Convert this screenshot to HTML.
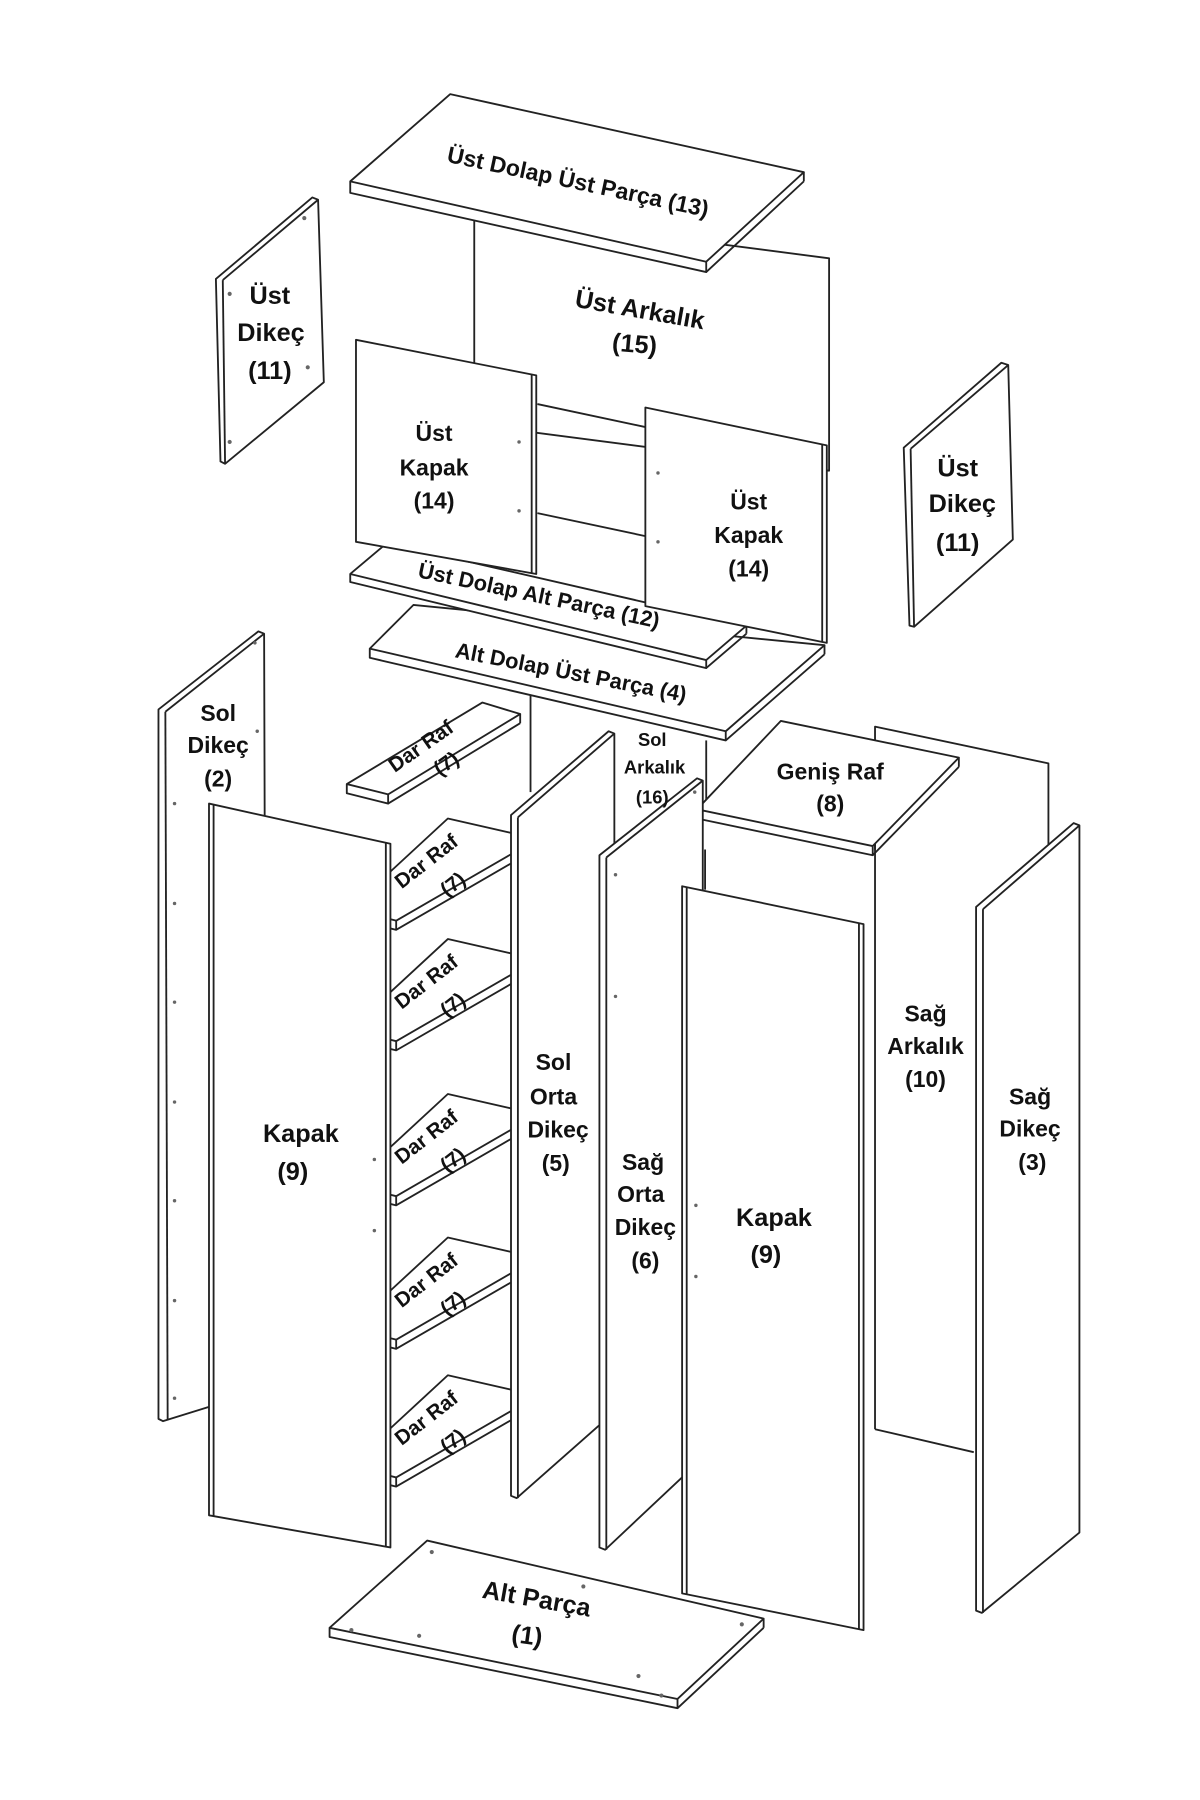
<!DOCTYPE html>
<html><head><meta charset="utf-8"><style>
html,body{margin:0;padding:0;background:#fff;}
svg{display:block;}
text{font-family:"Liberation Sans",sans-serif;font-weight:bold;fill:#111;}
</style></head><body>
<svg width="1200" height="1800" viewBox="0 0 1045 1568" preserveAspectRatio="none" xmlns="http://www.w3.org/2000/svg">
<g fill="#fff" stroke="#222" stroke-width="1.6" stroke-linejoin="round">
<!-- Üst Arkalık -->
<polygon points="413,185 722,225 722,410 413,370"/>
<line x1="468" y1="352" x2="562" y2="372"/>
<line x1="468" y1="447" x2="562" y2="467"/>
<!-- Üst Dolap Üst Parça 13 -->
<polygon points="305,158 392,82 700,150 615,228 615,237 305,168"/>
<line x1="305" y1="158" x2="615" y2="228"/>
<line x1="700" y1="150" x2="700" y2="158"/><line x1="700" y1="158" x2="615" y2="237"/>
<!-- Üst Dikeç left -->
<polygon points="188,243 272,172 277,174 282,333 196,404 192,402"/>
<line x1="194" y1="244" x2="277" y2="174"/><line x1="194" y1="244" x2="196" y2="404"/>
<!-- Üst Dikeç right -->
<polygon points="787,390 872,316 878,318 882,470 796,546 792,545"/>
<line x1="793" y1="391" x2="878" y2="318"/><line x1="793" y1="391" x2="796" y2="546"/>
<!-- Alt Dolap Üst Parça 4 -->
<polygon points="322,565 360,527 718,562 632,637 632,645 322,573"/>
<line x1="322" y1="565" x2="632" y2="637"/><line x1="718" y1="562" x2="718" y2="570"/><line x1="718" y1="570" x2="632" y2="645"/>
<!-- Üst Dolap Alt Parça 12 -->
<polygon points="305,500 337,473 650,545 615,575 615,582 305,507"/>
<line x1="305" y1="500" x2="615" y2="575"/><line x1="650" y1="545" x2="650" y2="552"/><line x1="650" y1="552" x2="615" y2="582"/>
<!-- Üst Kapak left/right -->
<polygon points="310,296 467,327 467,500 310,472"/>
<line x1="463" y1="326" x2="463" y2="499"/>
<polygon points="562,355 720,388 720,560 562,528"/>
<line x1="716" y1="387" x2="716" y2="559"/>
<!-- Sol Arkalık -->
<line x1="462" y1="605" x2="462" y2="690"/>
<line x1="615" y1="645" x2="615" y2="700"/>
<!-- Sağ Arkalık body -->
<polygon points="614,700 762,735 762,1245 848,1265 848,800 614,770" stroke="none"/>
<polyline fill="none" points="762,740 762,633 913,665 913,745"/>
<line x1="762" y1="735" x2="762" y2="1245"/><line x1="762" y1="1245" x2="848" y2="1265"/>
<line x1="614" y1="740" x2="614" y2="775"/>
<!-- Geniş Raf -->
<polygon points="607,705 680,628 835,660 760,737 760,745 607,713"/>
<line x1="607" y1="705" x2="760" y2="737"/><line x1="835" y1="660" x2="835" y2="668"/><line x1="835" y1="668" x2="760" y2="745"/>
<!-- Sol Dikeç -->
<polygon points="138,618 225,550 230,552 232,1210 142,1238 138,1236"/>
<line x1="144" y1="620" x2="230" y2="552"/><line x1="144" y1="620" x2="146" y2="1237"/>
<!-- Dar Raf top -->
<polygon points="302,683 420,612 453,622 338,692 338,700 302,691"/>
<line x1="302" y1="683" x2="338" y2="692"/><line x1="453" y1="622" x2="453" y2="630"/><line x1="453" y1="630" x2="338" y2="700"/>
<!-- Dar Raf others -->
<g id="sh">
<polygon points="337,762 390,713 447,726 447,751 345,810 337,808"/>
<line x1="337" y1="800" x2="345" y2="802"/><line x1="345" y1="802" x2="447" y2="743"/><line x1="345" y1="802" x2="345" y2="810"/>
</g>
<use href="#sh" y="105"/>
<use href="#sh" y="240"/>
<use href="#sh" y="365"/>
<use href="#sh" y="485"/>
<!-- Kapak left -->
<polygon points="182,700 340,735 340,1348 182,1320"/>
<line x1="186" y1="701" x2="186" y2="1321"/><line x1="336" y1="734" x2="336" y2="1347"/>
<!-- Sol Orta Dikeç -->
<polygon points="445,710 530,637 535,639 535,1230 450,1305 445,1303"/>
<line x1="451" y1="712" x2="535" y2="639"/><line x1="451" y1="712" x2="451" y2="1305"/>
<!-- Sağ Orta Dikeç -->
<polygon points="522,745 607,678 612,680 612,1270 527,1350 522,1348"/>
<line x1="528" y1="747" x2="612" y2="680"/><line x1="528" y1="747" x2="528" y2="1350"/>
<!-- Kapak right -->
<polygon points="594,772 752,805 752,1420 594,1388"/>
<line x1="598" y1="773" x2="598" y2="1389"/><line x1="748" y1="804" x2="748" y2="1419"/>
<!-- Sağ Dikeç -->
<polygon points="850,790 935,717 940,719 940,1335 855,1405 850,1403"/>
<line x1="856" y1="792" x2="940" y2="719"/><line x1="856" y1="792" x2="856" y2="1405"/>
<!-- Alt Parça -->
<polygon points="287,1418 372,1342 665,1410 590,1480 590,1488 287,1426"/>
<line x1="287" y1="1418" x2="590" y2="1480"/><line x1="665" y1="1410" x2="665" y2="1418"/><line x1="665" y1="1418" x2="590" y2="1488"/>
</g>
<g fill="#666">
<circle cx="200" cy="256" r="1.8"/><circle cx="265" cy="190" r="1.8"/><circle cx="268" cy="320" r="1.8"/><circle cx="200" cy="385" r="1.8"/>
<circle cx="452" cy="385" r="1.5"/><circle cx="452" cy="445" r="1.5"/><circle cx="573" cy="412" r="1.5"/><circle cx="573" cy="472" r="1.5"/>
<circle cx="152" cy="700" r="1.5"/><circle cx="152" cy="787" r="1.5"/><circle cx="152" cy="873" r="1.5"/><circle cx="152" cy="960" r="1.5"/><circle cx="152" cy="1046" r="1.5"/><circle cx="152" cy="1133" r="1.5"/><circle cx="152" cy="1218" r="1.5"/><circle cx="222" cy="560" r="1.5"/><circle cx="224" cy="637" r="1.5"/>
<circle cx="326" cy="1010" r="1.5"/><circle cx="326" cy="1072" r="1.5"/><circle cx="606" cy="1050" r="1.5"/><circle cx="606" cy="1112" r="1.5"/>
<circle cx="536" cy="762" r="1.5"/><circle cx="536" cy="868" r="1.5"/><circle cx="605" cy="690" r="1.5"/>
<circle cx="306" cy="1420" r="1.8"/><circle cx="376" cy="1352" r="1.8"/><circle cx="365" cy="1425" r="1.8"/><circle cx="508" cy="1382" r="1.8"/><circle cx="556" cy="1460" r="1.8"/><circle cx="576" cy="1477" r="1.8"/><circle cx="646" cy="1415" r="1.8"/>
</g>
<g font-size="20" text-anchor="middle">
<text transform="translate(502,165) rotate(12)">Üst Dolap Üst Parça (13)</text>
<text transform="translate(556,277) rotate(10)" font-size="22">Üst Arkalık</text>
<text transform="translate(552,307) rotate(5)" font-size="22">(15)</text>
<text x="235" y="265" font-size="22">Üst</text><text x="236" y="297" font-size="22">Dikeç</text><text x="235" y="330" font-size="22">(11)</text>
<text x="834" y="415" font-size="22">Üst</text><text x="838" y="446" font-size="22">Dikeç</text><text x="834" y="480" font-size="22">(11)</text>
<text x="378" y="384">Üst</text><text x="378" y="414">Kapak</text><text x="378" y="443">(14)</text>
<text x="652" y="444">Üst</text><text x="652" y="473">Kapak</text><text x="652" y="502">(14)</text>
<text transform="translate(468,525) rotate(12)" font-size="19">Üst Dolap Alt Parça (12)</text>
<text transform="translate(496,592) rotate(11)" font-size="19">Alt Dolap Üst Parça (4)</text>
<text x="568" y="650" font-size="16">Sol</text><text x="570" y="674" font-size="16">Arkalık</text><text x="568" y="700" font-size="16">(16)</text>
<text x="723" y="679">Geniş Raf</text><text x="723" y="707">(8)</text>
<text x="190" y="628">Sol</text><text x="190" y="656">Dikeç</text><text x="190" y="685">(2)</text>
<g font-size="18">
<text transform="translate(370,655) rotate(-35)">Dar Raf</text><text transform="translate(392,670) rotate(-35)">(7)</text>
<text transform="translate(375,755) rotate(-38)">Dar Raf</text><text transform="translate(398,775) rotate(-38)">(7)</text>
<text transform="translate(375,860) rotate(-38)">Dar Raf</text><text transform="translate(398,880) rotate(-38)">(7)</text>
<text transform="translate(375,995) rotate(-38)">Dar Raf</text><text transform="translate(398,1015) rotate(-38)">(7)</text>
<text transform="translate(375,1120) rotate(-38)">Dar Raf</text><text transform="translate(398,1140) rotate(-38)">(7)</text>
<text transform="translate(375,1240) rotate(-38)">Dar Raf</text><text transform="translate(398,1260) rotate(-38)">(7)</text>
</g>
<text x="262" y="995" font-size="22">Kapak</text><text x="255" y="1028" font-size="22">(9)</text>
<text x="482" y="932">Sol</text><text x="482" y="962">Orta</text><text x="486" y="991">Dikeç</text><text x="484" y="1020">(5)</text>
<text x="560" y="1019">Sağ</text><text x="558" y="1047">Orta</text><text x="562" y="1076">Dikeç</text><text x="562" y="1105">(6)</text>
<text x="674" y="1068" font-size="22">Kapak</text><text x="667" y="1100" font-size="22">(9)</text>
<text x="806" y="890">Sağ</text><text x="806" y="918">Arkalık</text><text x="806" y="947">(10)</text>
<text x="897" y="962">Sağ</text><text x="897" y="990">Dikeç</text><text x="899" y="1019">(3)</text>
<text transform="translate(466,1400) rotate(10)" font-size="22">Alt Parça</text>
<text transform="translate(458,1432) rotate(8)" font-size="22">(1)</text>
</g>
</svg>
</body></html>
